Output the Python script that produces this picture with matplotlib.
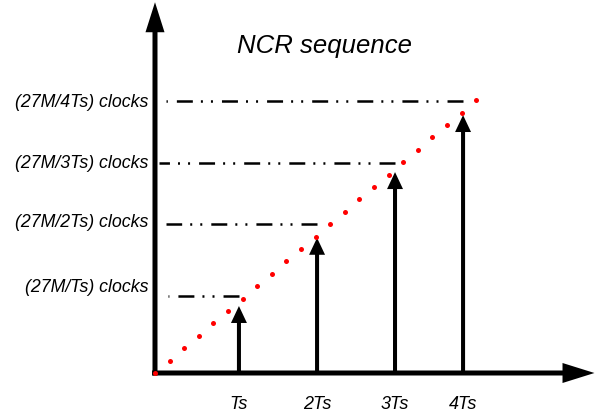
import matplotlib
matplotlib.use('Agg')
import matplotlib.pyplot as plt
from matplotlib.patches import FancyArrowPatch, ArrowStyle

# NCR counter values (one red dot per 27 MHz clock), in clock units
ncr_counts = [0, 1, 2, 3, 4, 5, 6, 7, 8, 9, 10, 11, 12, 13, 14, 15,
              16, 17, 18, 19, 20, 21, 22]

# sampling instants Ts..4Ts (x, in clock units) and the arrow heights
sample_times = [5.75, 11.1, 16.44, 21.1]
arrow_heights = [5.4, 10.9, 16.2, 20.8]
tick_labels = ['Ts', '2Ts', '3Ts', '4Ts']

# NCR levels reached at each sample, and where the guide lines begin
ncr_levels = [6.21, 12.02, 16.94, 21.94]
line_starts = [0.9, 0.75, 0.3, 0.75]
level_labels = ['(27M/Ts) clocks', '(27M/2Ts) clocks',
                '(27M/3Ts) clocks', '(27M/4Ts) clocks']

plt.rcParams['font.family'] = ['Liberation Sans', 'DejaVu Sans']
plt.rcParams['lines.scale_dashes'] = False

fig = plt.figure(figsize=(5.95, 4.14), dpi=100)
ax = fig.add_axes([0, 0, 1, 1])
ax.set_xlim(-10.616, 30.137)
ax.set_ylim(-3.226, 30.161)
ax.axis('off')


def arrow(p0, p1, shaft, head_w, head_l):
    style = ArrowStyle('simple', head_length=head_l, head_width=head_w,
                       tail_width=shaft)
    a = FancyArrowPatch(p0, p1, arrowstyle=style, mutation_scale=1,
                        color='black', lw=0, shrinkA=0, shrinkB=0)
    ax.add_patch(a)


# axes with big arrow heads
arrow((-0.2, 0), (30.1, 0), 3.6, 14.4, 23.0)
arrow((0, -0.2), (0, 29.9), 3.6, 13.7, 21.6)

# sample arrows
for t, h in zip(sample_times, arrow_heights):
    arrow((t, 0), (t, h), 2.9, 11.5, 12.2)

# dash-dot-dot guide lines, drawn from the right so they end on a dash
for t, lvl, x0 in zip(sample_times, ncr_levels, line_starts):
    ax.plot([t, x0], [lvl, lvl], color='black', lw=1.8,
            dashes=[11.5, 6.5, 1.44, 5.8, 1.44, 5.8], solid_capstyle='butt')

label_offsets = [0.4, -0.17, -0.33, -0.41]
for lvl, lab, off in zip(ncr_levels, level_labels, label_offsets):
    ax.text(-0.45, lvl + off, lab, ha='right', va='baseline',
            fontsize=12.8, fontstyle='italic')

for t, lab in zip(sample_times, tick_labels):
    ax.text(t, -3.12, lab, ha='center', va='bottom', fontsize=13,
            fontstyle='italic')

# NCR counter dots
ax.plot(ncr_counts, ncr_counts, linestyle='none', marker='o',
        markersize=3.6, color='red', markeredgewidth=0, zorder=5)

ax.text(11.64, 25.9, 'NCR sequence', ha='center', va='baseline',
        fontsize=18.5, fontstyle='italic')

fig.savefig('out.png', dpi=100)
